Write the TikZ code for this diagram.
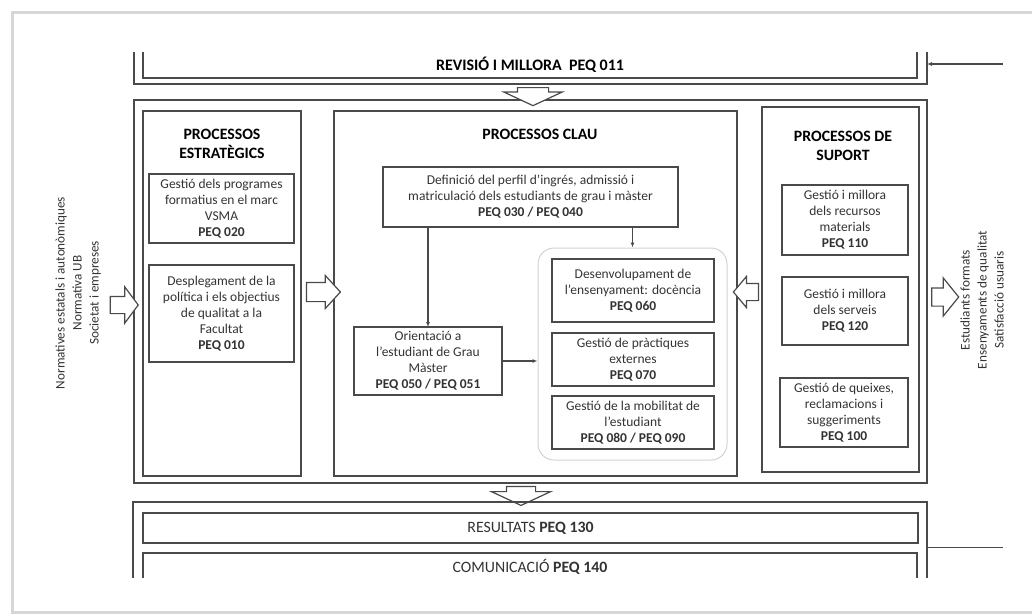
\documentclass[tikz,border=0pt]{standalone}
\usepackage{fontspec}
\setmainfont{Carlito}
\usetikzlibrary{arrows.meta,shapes.arrows,positioning}
\definecolor{linegray}{HTML}{4A4A4A}
\definecolor{textgray}{HTML}{333333}
\definecolor{framegray}{HTML}{D6D6D6}
\definecolor{groupgray}{HTML}{D2D2D2}

\begin{document}
\begin{tikzpicture}[x=1pt,y=-1pt,
  frame/.style={draw=linegray,line width=1.6pt},
  proc box/.style={rectangle,draw=linegray,line width=1.2pt,align=center,
    font=\fontsize{13.5}{16}\selectfont,text=textgray,inner sep=1pt,outer sep=0pt},
  title/.style={align=center,font=\fontsize{15.8}{19}\selectfont\bfseries},
  side text/.style={rotate=90,align=center,text=textgray,
    font=\fontsize{13.2}{17}\selectfont},
  big arrow/.style={single arrow,draw=linegray,fill=white,line width=1.2pt,
    inner xsep=0pt,outer sep=0pt},
  small arrow/.style={-{Latex[length=5pt,width=4pt]},draw=linegray,line width=1.2pt}]

  \useasboundingbox (0,0) rectangle (1032,614);
  \draw[framegray,line width=3pt] (1032,12) -- (12,12) -- (12,612) -- (1032,612);

  %Revisio i millora at the top, open upwards
  \draw[frame] (134,52) -- (134,84) -- (927,84) -- (927,52);
  \draw[frame] (143,52) -- (143,78) -- (917,78) -- (917,52);
  \node[font=\fontsize{16}{18}\selectfont\bfseries] (rev) at (530,65) {REVISIÓ I MILLORA\ \ PEQ 011};
  \coordinate (revin) at (1003,64);
  \coordinate (revedge) at (927,64);
  \draw[small arrow] (revin) -- (revedge);

  %Main box with the three groups of processes
  \node[frame,rectangle,minimum width=793pt,minimum height=383pt] (main) at (530.5,291.5) {};
  \node[proc box,minimum width=158pt,minimum height=365pt] (estr) at (222,293.5) {};
  \node[proc box,minimum width=403pt,minimum height=365pt] (clau) at (535.5,293.5) {};
  \node[proc box,minimum width=157pt,minimum height=365pt] (suport) at (840.5,289.5) {};

  %Processos estrategics
  \node[title] (estrtitle) at (222,143.5) {PROCESSOS\\ESTRATÈGICS};
  \node[proc box,minimum width=145pt,minimum height=69pt] (p020) at (221.5,208.5)
    {Gestió dels programes\\formatius en el marc\\VSMA\\\textbf{PEQ 020}};
  \node[proc box,minimum width=145pt,minimum height=97pt] (p010) at (221.5,313.5)
    {Desplegament de la\\política i els objectius\\de qualitat a la\\Facultat\\\textbf{PEQ 010}};

  %Processos clau
  \node[title] (claututle) at (540,134) {PROCESSOS CLAU};
  \node[proc box,minimum width=295pt,minimum height=60pt] (def) at (530.5,197)
    {Definició del perfil d’ingrés, admissió i\\matriculació dels estudiants de grau i màster\\\textbf{PEQ 030 / PEQ 040}};
  \node[rectangle,draw=groupgray,line width=1pt,rounded corners=16pt,
    minimum width=189pt,minimum height=212pt] (grup) at (632.5,354) {};
  \node[proc box,minimum width=162pt,minimum height=63pt] (p060) at (633,290.5)
    {Desenvolupament de\\l’ensenyament: docència\\\textbf{PEQ 060}};
  \node[proc box,minimum width=162pt,minimum height=53pt] (p070) [below=11pt of p060]
    {Gestió de pràctiques\\externes\\\textbf{PEQ 070}};
  \node[proc box,minimum width=162pt,minimum height=53pt] (p080) [below=10pt of p070]
    {Gestió de la mobilitat de\\l’estudiant\\\textbf{PEQ 080 / PEQ 090}};
  \node[proc box,minimum width=148pt,minimum height=68pt] (ori) at (428,361)
    {Orientació a\\l’estudiant de Grau\\Màster\\\textbf{PEQ 050 / PEQ 051}};

  \draw[small arrow] (def.south -| ori.north) -- (ori.north);
  \draw[small arrow] (def.south -| grup.north) -- (grup.north);
  \draw[small arrow] (ori.east) -- (ori.east -| grup.west);

  %Processos de suport
  \node[title] (suporttitle) at (843,145.5) {PROCESSOS DE\\SUPORT};
  \node[proc box,minimum width=126pt,minimum height=70pt] (p110) at (845,220)
    {Gestió i millora\\dels recursos\\materials\\\textbf{PEQ 110}};
  \node[proc box,minimum width=126pt,minimum height=68pt] (p120) at (845,311)
    {Gestió i millora\\dels serveis\\\textbf{PEQ 120}};
  \node[proc box,minimum width=128pt,minimum height=69pt] (p100) at (844,412.5)
    {Gestió de queixes,\\reclamacions i\\suggeriments\\\textbf{PEQ 100}};

  %Block arrows
  \node[big arrow,minimum height=28pt,inner ysep=8pt,single arrow head extend=9.5pt,
    single arrow tip angle=107] (inarrow) at (121,305) {};
  \node[big arrow,minimum height=34pt,inner ysep=9pt,single arrow head extend=7pt,
    single arrow tip angle=95] (estrarrow) at (319,292) {};
  \node[big arrow,minimum height=25pt,inner ysep=8pt,single arrow head extend=7pt,
    single arrow tip angle=100,rotate=180] (suportarrow) at (749.5,292) {};
  \node[big arrow,minimum height=27pt,inner ysep=8.5pt,single arrow head extend=10pt,
    single arrow tip angle=102] (outarrow) at (941.5,297) {};
  \node[big arrow,minimum height=18pt,inner ysep=15pt,single arrow head extend=13.5pt,
    single arrow tip angle=130,rotate=-90] (revarrow) at (533,93) {};
  \node[big arrow,minimum height=19pt,inner ysep=14pt,single arrow head extend=15pt,
    single arrow tip angle=130,rotate=-90] (resarrow) at (521,492.5) {};

  %Resultats and comunicacio at the bottom, open downwards
  \draw[frame] (133,578) -- (133,502) -- (927,502) -- (927,578);
  \node[proc box,minimum width=775pt,minimum height=30pt,
    font=\fontsize{15.8}{17}\selectfont] (res) at (530.5,528) {RESULTATS \textbf{PEQ 130}};
  \draw[draw=linegray,line width=1.2pt] (143,578) -- (143,553) -- (917,553) -- (917,578);
  \node[text=textgray,font=\fontsize{15.8}{17}\selectfont] (com) at (530,567) {COMUNICACIÓ \textbf{PEQ 140}};
  \coordinate (resedge) at (927,547);
  \coordinate (resout) at (1003,547);
  \draw[draw=linegray,line width=1pt] (resedge) -- (resout);

  %Inputs and outputs
  \node[side text] (entrades) at (78,293)
    {Normatives estatals i autonòmiques\\Normativa UB\\Societat i empreses};
  \node[side text] (sortides) at (982,300)
    {Estudiants formats\\Ensenyaments de qualitat\\Satisfacció usuaris};

\end{tikzpicture}
\end{document}
